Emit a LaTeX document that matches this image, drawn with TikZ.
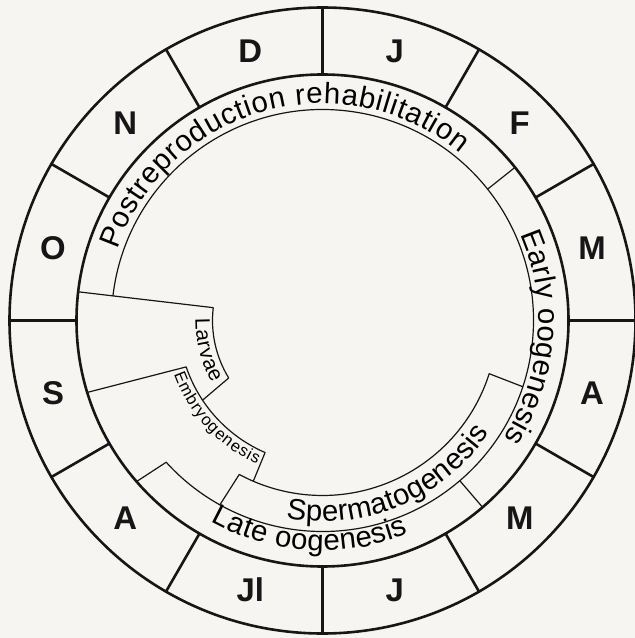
\documentclass[tikz,border=0pt]{standalone}
\usepackage{fontspec}
\setmainfont{Liberation Sans}
\usepackage{xcolor}
\usetikzlibrary{decorations.text}
\definecolor{paper}{RGB}{247,245,242}
\definecolor{ink}{RGB}{22,22,22}
\newcommand{\phasefont}{\fontsize{29.5}{34}\selectfont}
\newcommand{\larvaefont}{\fontsize{21}{25}\selectfont}
\newcommand{\embryofont}{\fontsize{16.5}{20}\selectfont}
\newcommand{\monthfont}{\bfseries\fontsize{33}{38}\selectfont}
\tikzset{
    calendar/.style={x=1bp, y=1bp, line cap=round, line join=round},
    ring/.style={draw=ink, line width=2.6bp},
    phaseline/.style={draw=ink, line width=1.2bp},
    month/.style={font=\monthfont, text=ink, inner sep=0pt},
    % text set along an arc, spread to fill it
    arclabel/.style 2 args={decorate, decoration={text along path, text align=fit to path, text={|#1|#2}}},
}

\begin{document}
\begin{tikzpicture}[calendar]
    \path[use as bounding box, fill=paper] (-322.5,-317.5) rectangle (312.5,320.5);

    % month ring
    \draw[ring] (0,0) circle[radius=313];
    \draw[ring] (0,0) circle[radius=246];
    \foreach \a in {0,30,...,330}
        \draw[ring] (\a:246) -- (\a:313);
    \foreach \m [count=\i, evaluate=\i as \a using 135-30*\i] in {D,J,F,M,A,M,J,Jl,A,S,O,N}
        \node[month] (month\i) at (\a:279) {\m};

    % phase boundaries
    \draw[phaseline] (173.3:211) arc[start angle=173.3, end angle=-137.8, radius=211];
    \draw[phaseline] (38.5:211) -- (38.5:246);
    \draw[phaseline] (-49.4:211) -- (-49.4:246);
    \draw[phaseline] (-137.8:211) -- (-139.1:246);
    \draw[phaseline] (173.3:246) -- (173.3:110)
        arc[start angle=173.3, end angle=211.5, radius=110] -- (-146.4:144);
    \draw[phaseline] (-163:246) -- (-161.2:144)
        arc[start angle=-161.2, end angle=-113.5, radius=144] -- (-113.3:175);
    \draw[phaseline] (-18.3:211) -- (-17.7:175)
        arc[start angle=-17.7, end angle=-118.4, radius=175] -- (-119.1:211);

    % phase names
    \path[arclabel={\phasefont}{Postreproduction rehabilitation}]
        (161:217) arc[start angle=161, end angle=50.5, radius=217];
    \path[arclabel={\phasefont}{Early oogenesis}]
        (23.5:216) arc[start angle=23.5, end angle=-33, radius=216];
    \path[arclabel={\phasefont}{Spermatogenesis}]
        (-100.5:201) arc[start angle=-100.5, end angle=-34, radius=201];
    \path[arclabel={\phasefont}{Late oogenesis}]
        (-119:230) arc[start angle=-119, end angle=-68, radius=230];
    \path[arclabel={\larvaefont}{Larvae}]
        (179:127) arc[start angle=179, end angle=209.5, radius=127];
    \path[arclabel={\embryofont}{Embryogenesis}]
        (-160:158) arc[start angle=-160, end angle=-114.5, radius=158];
\end{tikzpicture}
\end{document}
